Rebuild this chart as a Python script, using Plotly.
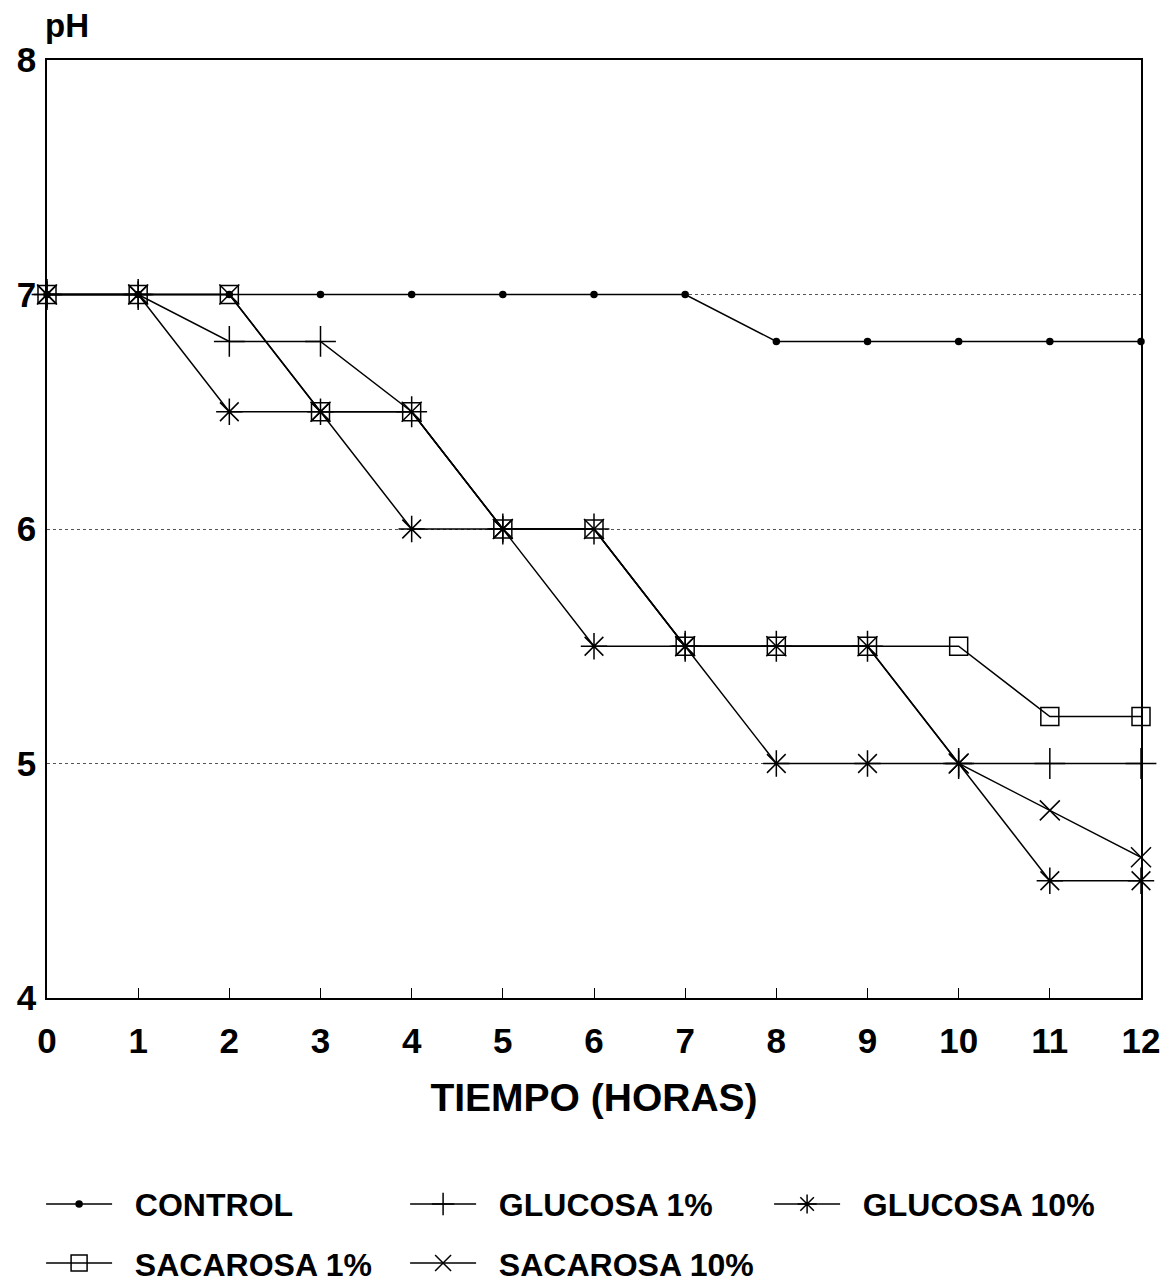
import plotly.graph_objects as go

# Hours of incubation
tiempo = list(range(13))

# pH readings per treatment
control = [7.0, 7.0, 7.0, 7.0, 7.0, 7.0, 7.0, 7.0, 6.8, 6.8, 6.8, 6.8, 6.8]
glucosa_1 = [7.0, 7.0, 6.8, 6.8, 6.5, 6.0, 6.0, 5.5, 5.5, 5.5, 5.0, 5.0, 5.0]
glucosa_10 = [7.0, 7.0, 6.5, 6.5, 6.0, 6.0, 5.5, 5.5, 5.0, 5.0, 5.0, 4.5, 4.5]
sacarosa_1 = [7.0, 7.0, 7.0, 6.5, 6.5, 6.0, 6.0, 5.5, 5.5, 5.5, 5.5, 5.2, 5.2]
sacarosa_10 = [7.0, 7.0, 7.0, 6.5, 6.5, 6.0, 6.0, 5.5, 5.5, 5.5, 5.0, 4.8, 4.6]

x_ticks = list(range(13))
y_ticks = [4, 5, 6, 7, 8]

FONT = "Liberation Sans"
INK = "black"
PAD = "\u00a0" * 2  # gap between the legend swatch and its label

series = [
    ("CONTROL", control, "circle", 6, "legend"),
    ("GLUCOSA 1%", glucosa_1, "cross-thin-open", 22, "legend"),
    ("GLUCOSA 10%", glucosa_10, "asterisk-open", 22, "legend"),
    ("SACAROSA 1%", sacarosa_1, "square-open", 18, "legend2"),
    ("SACAROSA 10%", sacarosa_10, "x-thin-open", 20, "legend2"),
]

fig = go.Figure()
for name, vals, sym, size, leg in series:
    fig.add_trace(go.Scatter(
        x=tiempo, y=vals, name=PAD + name, mode="lines+markers",
        line=dict(color=INK, width=1.5),
        marker=dict(symbol=sym, size=size, color=INK,
                    line=dict(color=INK, width=1.5)),
        cliponaxis=False, legend=leg,
    ))

legend_common = dict(
    orientation="h", xanchor="left", yanchor="top",
    font=dict(family=FONT, size=32, color=INK, weight="bold"),
    entrywidth=283, entrywidthmode="pixels", itemwidth=66,
    bgcolor="rgba(0,0,0,0)", tracegroupgap=0,
)

fig.update_layout(
    width=1168, height=1285,
    margin=dict(l=47, r=27, t=60, b=287, autoexpand=False),
    paper_bgcolor="white", plot_bgcolor="white",
    font=dict(family=FONT, color=INK),
    showlegend=True,
    legend=dict(x=-0.0054, y=-0.1905, **legend_common),
    legend2=dict(x=-0.0054, y=-0.2535, **legend_common),
    xaxis=dict(
        range=[0, 12], tickvals=x_ticks, ticktext=[str(v) for v in x_ticks],
        ticks="inside", ticklen=10, tickwidth=1, tickcolor=INK,
        showline=True, linecolor=INK, linewidth=1.5, mirror=True,
        showgrid=False, zeroline=False,
        ticklabelstandoff=11,
        tickfont=dict(family=FONT, size=35, color=INK, weight="bold"),
        title=dict(text="TIEMPO (HORAS)", standoff=25,
                   font=dict(family=FONT, size=39, color=INK, weight="bold")),
    ),
    yaxis=dict(
        range=[4, 8], tickvals=y_ticks, ticktext=[str(v) for v in y_ticks],
        ticks="", showline=True, linecolor=INK, linewidth=1.5, mirror=True,
        showgrid=True, gridcolor="#555555", gridwidth=1, griddash="dot",
        zeroline=False, ticklabelstandoff=2,
        tickfont=dict(family=FONT, size=35, color=INK, weight="bold"),
    ),
    annotations=[dict(
        text="pH", xref="paper", yref="paper", x=0, y=1, xanchor="left",
        yanchor="bottom", yshift=14, xshift=-4, showarrow=False,
        font=dict(family=FONT, size=33, color=INK, weight="bold"),
    )],
)

fig.write_html("out.html")
